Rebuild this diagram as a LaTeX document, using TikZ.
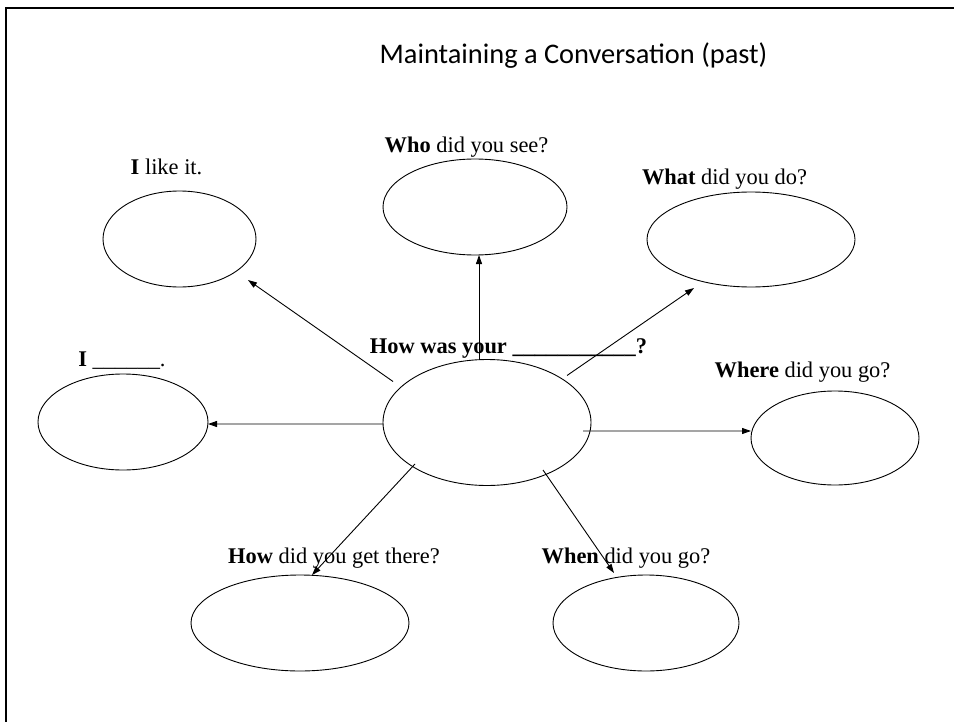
\documentclass[tikz,border=0pt]{standalone}
\usepackage{fontspec}
\setmainfont{Liberation Serif}
\newfontfamily\titlefont{Carlito}
\usetikzlibrary{arrows.meta,calc,shapes.geometric}

\begin{document}
\begin{tikzpicture}[x=1bp,y=-1bp,
  bubble/.style={draw=black, line width=0.9bp, ellipse, inner sep=0pt},
  arr/.style={draw=black, line width=0.9bp, -{Triangle[length=9bp,width=6bp]}},
  lbl/.style={font=\fontsize{22.5}{26}\selectfont, inner sep=0pt, anchor=base, text=black},
  frame/.style={line width=2.5bp, draw=black}]

\useasboundingbox (0,0) rectangle (954,722);

% slide frame (top and left edges)
\draw[frame] (6,722) -- (6,8) -- (954,8);

% title
\node[font=\titlefont\fontsize{28.5}{34}\selectfont, inner sep=0pt, anchor=base] (title) at (573.5,64) {Maintaining a Conversation (past)};

% bubbles
\node[bubble, minimum width=208bp, minimum height=126bp] (c) at (487,422.5) {};
\node[bubble, minimum width=153bp, minimum height=96bp] (like) at (179.5,239) {};
\node[bubble, minimum width=184bp, minimum height=96bp] (who) at (475,207) {};
\node[bubble, minimum width=208bp, minimum height=95bp] (what) at (751,239.5) {};
\node[bubble, minimum width=170bp, minimum height=96bp] (blank) at (123,422) {};
\node[bubble, minimum width=168bp, minimum height=94bp] (where) at (835,438) {};
\node[bubble, minimum width=218bp, minimum height=96bp] (how) at (300,623) {};
\node[bubble, minimum width=186bp, minimum height=96bp] (when) at (646,623) {};

% labels
\node[lbl] (tlike) at (166.5,175) {\textbf{I} like it.};
\node[lbl] (twho) at (466.5,153) {\textbf{Who} did you see?};
\node[lbl] (twhat) at (724.5,185) {\textbf{What} did you do?};
\node[lbl] (tc) at (508.5,353) {\textbf{How was your \_\_\_\_\_\_\_\_\_\_\_?}};
\node[lbl] (tblank) at (122,366) {\textbf{I} \_\_\_\_\_\_.};
\node[lbl] (twhere) at (802.5,377) {\textbf{Where} did you go?};
\node[lbl] (thow) at (334,563) {\textbf{How} did you get there?};
\node[lbl] (twhen) at (626,563) {\textbf{When} did you go?};

% connectors
\draw[arr] ($(c)+(-94,-41)$) -- ($(like)+(68.5,41)$);
\draw[arr] ($(c)+(-8,-63)$) -- ($(who)+(4,48)$);
\draw[arr] ($(c)+(80,-47)$) -- ($(what)+(-57,48.5)$);
\draw[arr] ($(c)+(-104,1.5)$) -- ($(blank)+(85,2)$);
\draw[arr] ($(c)+(96,8.5)$) -- ($(where)+(-84,-7)$);
\draw[arr] ($(c)+(-72,41.5)$) -- ($(how)+(12,-48)$);
\draw[arr] ($(c)+(56,47.5)$) -- ($(when)+(-32,-50)$);

\end{tikzpicture}
\end{document}
